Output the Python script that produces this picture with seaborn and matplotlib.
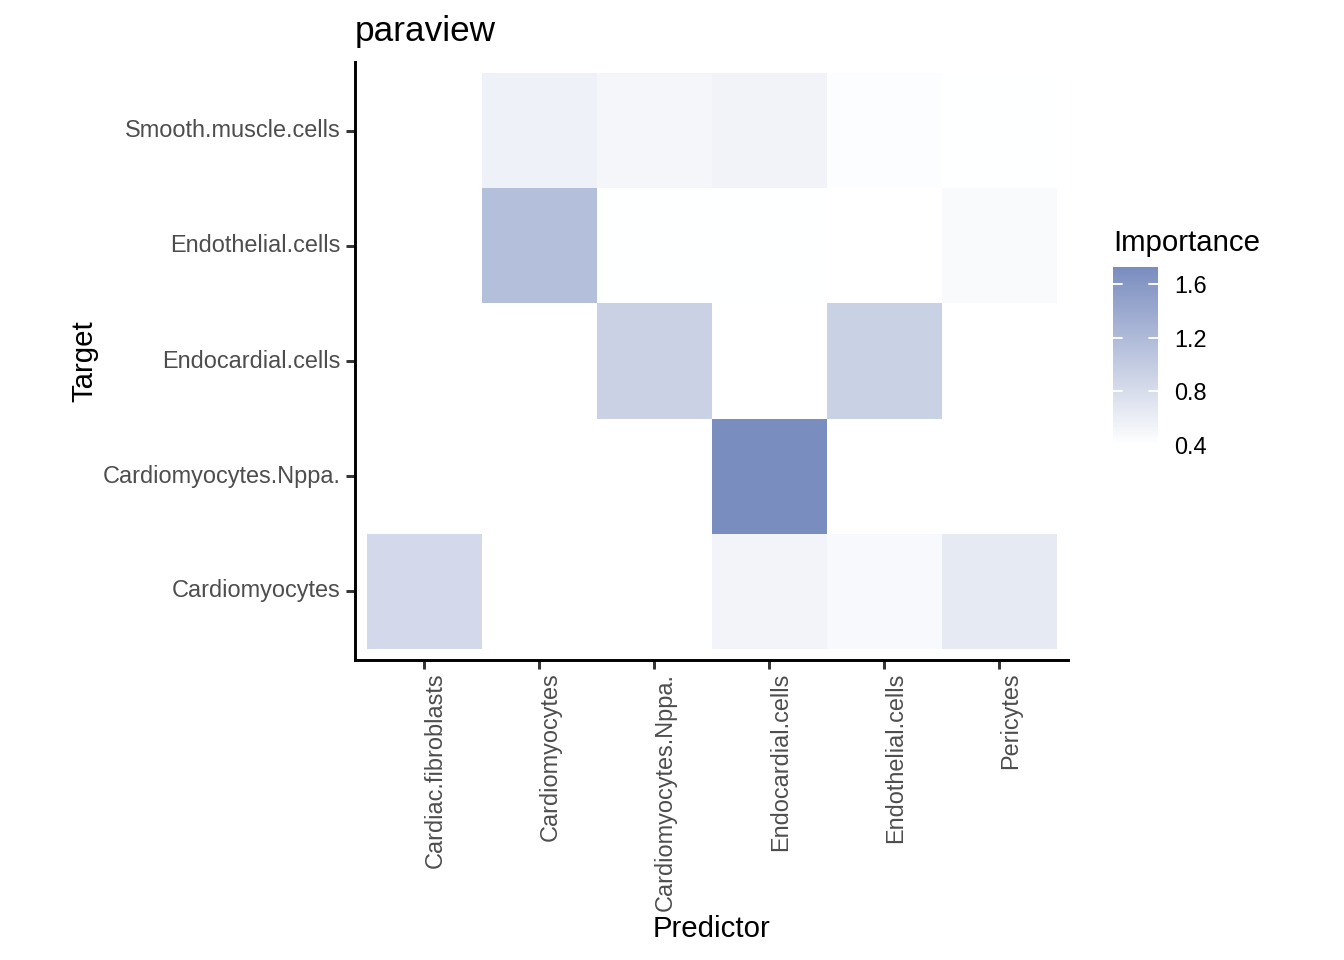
import numpy as np
import pandas as pd
import matplotlib
matplotlib.use("Agg")
import matplotlib.pyplot as plt
import seaborn as sns
from matplotlib.colors import LinearSegmentedColormap

predictors = ["Cardiac.fibroblasts", "Cardiomyocytes", "Cardiomyocytes.Nppa.",
              "Endocardial.cells", "Endothelial.cells", "Pericytes"]
targets = ["Smooth.muscle.cells", "Endothelial.cells", "Endocardial.cells",
           "Cardiomyocytes.Nppa.", "Cardiomyocytes"]

smooth_muscle = [0.40, 0.57, 0.51, 0.54, 0.43, 0.41]
endothelial = [0.40, 1.15, 0.41, 0.41, 0.40, 0.46]
endocardial = [0.40, 0.40, 0.93, 0.40, 0.94, 0.40]
cardio_nppa = [0.40, 0.40, 0.40, 1.73, 0.40, 0.40]
cardiomyocytes = [0.84, 0.40, 0.40, 0.53, 0.47, 0.65]

cbar_ticks = [0.4, 0.8, 1.2, 1.6]

df = pd.DataFrame([smooth_muscle, endothelial, endocardial, cardio_nppa, cardiomyocytes],
                  index=targets, columns=predictors)

sns.set_theme(style="white")
plt.rcParams["font.family"] = ["Liberation Sans", "DejaVu Sans"]

fig = plt.figure(figsize=(7, 5), dpi=192)
ax = fig.add_axes([355/1344, 1-660/960, (1068-355)/1344, (660-62)/960])
cax = fig.add_axes([1113/1344, 1-445/960, 45/1344, 178/960])

cmap = LinearSegmentedColormap.from_list("imp", ["#FFFFFF", "#7A8DBF"])
vmin, vmax = df.values.min(), df.values.max()
sns.heatmap(df, ax=ax, cmap=cmap, vmin=vmin, vmax=vmax, cbar_ax=cax,
            linewidths=0, square=False)

ax.set_xlim(-0.1, len(predictors) + 0.1)
ax.set_ylim(len(targets) + 0.1, -0.1)
for s in ["left", "bottom"]:
    ax.spines[s].set_visible(True)
    ax.spines[s].set_color("black")
    ax.spines[s].set_linewidth(1.1)
for s in ["top", "right"]:
    ax.spines[s].set_visible(False)

ax.set_xticks(np.arange(len(predictors)) + 0.5)
ax.set_xticklabels(predictors, rotation=90, fontsize=8.8, color="#4D4D4D",
                   ha="left", va="top")
ax.set_yticks(np.arange(len(targets)) + 0.5)
ax.set_yticklabels(targets, rotation=0, fontsize=8.8, color="#4D4D4D")
ax.tick_params(axis="both", which="both", length=3.5, width=1.1, color="#333333",
               bottom=True, left=True, pad=2.0)
ax.tick_params(axis="x", pad=1.2)
ax.set_xlabel("Predictor", fontsize=11, color="black", labelpad=1.5)
ax.set_ylabel("Target", fontsize=11, color="black", labelpad=1.5)
ax.set_title("paraview", fontsize=13.2, loc="left", color="black", pad=8)

cb = ax.collections[0].colorbar
cb.outline.set_visible(False)
cb.set_ticks(cbar_ticks)
cb.set_ticklabels([f"{t:.1f}" for t in cbar_ticks])
cax.tick_params(length=0, labelsize=8.8, labelcolor="black", pad=6)
for t in cbar_ticks:
    cax.plot([0, 0.2], [t, t], color="white", lw=0.7, transform=cax.get_yaxis_transform())
    cax.plot([0.8, 1.0], [t, t], color="white", lw=0.7, transform=cax.get_yaxis_transform())
cax.set_title("Importance", fontsize=11, loc="left", pad=6, color="black")

fig.savefig("out.png", dpi=192)
